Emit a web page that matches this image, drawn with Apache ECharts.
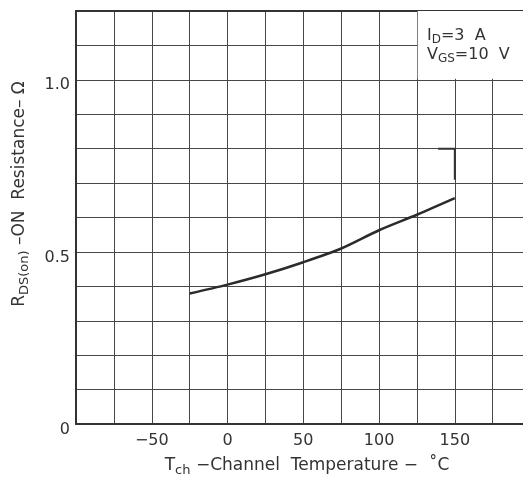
<!DOCTYPE html>
<html>
<head>
<meta charset="utf-8">
<script src="https://cdn.jsdelivr.net/npm/echarts@6/dist/echarts.min.js"></script>
<style>
html,body{margin:0;padding:0;background:#fff;}
#chart{width:523px;height:479px;}
</style>
</head>
<body>
<div id="chart"></div>
<script>
// Data
const temperature = [-25, 0, 25, 50, 75, 100, 125, 150];
const resistance = [0.379, 0.405, 0.435, 0.470, 0.510, 0.563, 0.608, 0.656];
// small mark near 150 °C
const markX = [139, 150, 150];
const markY = [0.80, 0.80, 0.71];
// tick labels
const xTickValues = [-50, 0, 50, 100, 150];
const xTickLabels = ['\u221250', '0', '50', '100', '150'];
const yTickValues = [0, 0.5, 1.0];
const yTickLabels = ['0', '0.5', '1.0'];
// axis ranges (right edge of the plot is cut off in the reference)
const xMin = -100, xMax = 195, xStep = 25;
const yMin = 0, yMax = 1.2, yStep = 0.1;
// condition box range
const boxX = [125.5, 200];
const boxY = [1.003, 1.2];

const FONT = 'DejaVu Sans';
const TXT = '#333';
const GRID = '#474747';

function labelFor(values, labels, v) {
  for (let i = 0; i < values.length; i++) {
    if (Math.abs(values[i] - v) < 1e-6) return labels[i];
  }
  return '';
}

const rich = (size, sub) => ({
  n: {fontFamily: FONT, fontSize: size, lineHeight: 20, fill: TXT, color: TXT},
  s: {fontFamily: FONT, fontSize: sub, lineHeight: 20, fill: TXT, color: TXT, padding: [9, 0, 0, 0]}
});

const chart = echarts.init(document.getElementById('chart'), null, {renderer: 'canvas'});
chart.setOption({
  animation: false,
  backgroundColor: '#fff',
  grid: {left: 76, top: 11, right: 0, bottom: 55, show: false},
  xAxis: [{
    type: 'value', min: xMin, max: xMax, interval: xStep,
    axisLine: {show: true, onZero: false, lineStyle: {color: '#333', width: 2}},
    axisTick: {show: false},
    splitLine: {show: true, lineStyle: {color: GRID, width: 1}},
    axisLabel: {
      color: TXT, fontFamily: FONT, fontSize: 16, margin: 9, showMaxLabel: false,
      formatter: v => labelFor(xTickValues, xTickLabels, v)
    }
  }, {
    type: 'value', position: 'top', min: xMin, max: xMax, interval: xStep,
    axisLine: {show: true, onZero: false, lineStyle: {color: '#333', width: 2}},
    axisTick: {show: false}, axisLabel: {show: false}, splitLine: {show: false}
  }],
  yAxis: {
    type: 'value', min: yMin, max: yMax, interval: yStep,
    axisLine: {show: true, onZero: false, lineStyle: {color: '#333', width: 2}},
    axisTick: {show: false},
    splitLine: {show: true, lineStyle: {color: GRID, width: 1}},
    axisLabel: {
      color: TXT, fontFamily: FONT, fontSize: 16, margin: 6,
      verticalAlign: 'top', lineHeight: 11,
      formatter: v => labelFor(yTickValues, yTickLabels, v)
    }
  },
  series: [
    {
      type: 'line',
      data: temperature.map((t, i) => [t, resistance[i]]),
      smooth: 0.3,
      showSymbol: false,
      lineStyle: {color: '#2b2b2b', width: 2.5},
      markArea: {
        silent: true,
        itemStyle: {color: '#fff', borderWidth: 0},
        data: [[{coord: [boxX[0], boxY[1]]}, {coord: [boxX[1], boxY[0]]}]]
      },
      z: 3
    },
    {
      type: 'line',
      data: markX.map((x, i) => [x, markY[i]]),
      showSymbol: false,
      lineStyle: {color: '#333', width: 2},
      z: 3
    }
  ],
  graphic: [
    {
      type: 'text', left: 427, top: 25, z: 10,
      style: {text: '{n|I}{s|D}{n|=3  A}', fill: TXT, rich: rich(16, 12)}
    },
    {
      type: 'text', left: 427, top: 44, z: 10,
      style: {text: '{n|V}{s|GS}{n|=10  V}', fill: TXT, rich: rich(16, 12)}
    },
    {
      type: 'text', x: 307, y: 466, z: 10,
      style: {
        text: '{n|T}{s|ch}{n| \u2212Channel  Temperature \u2212  \u02daC}',
        align: 'center', verticalAlign: 'middle', fill: TXT, rich: rich(17, 13)
      }
    },
    {
      type: 'text', x: 20, y: 194, rotation: Math.PI / 2, z: 10,
      style: {
        text: '{n|R}{s|DS(on)}{n| \u2013ON  Resistance\u2013 \u03a9}',
        align: 'center', verticalAlign: 'middle', fill: TXT, rich: rich(17, 13)
      }
    }
  ]
});
</script>
</body>
</html>
